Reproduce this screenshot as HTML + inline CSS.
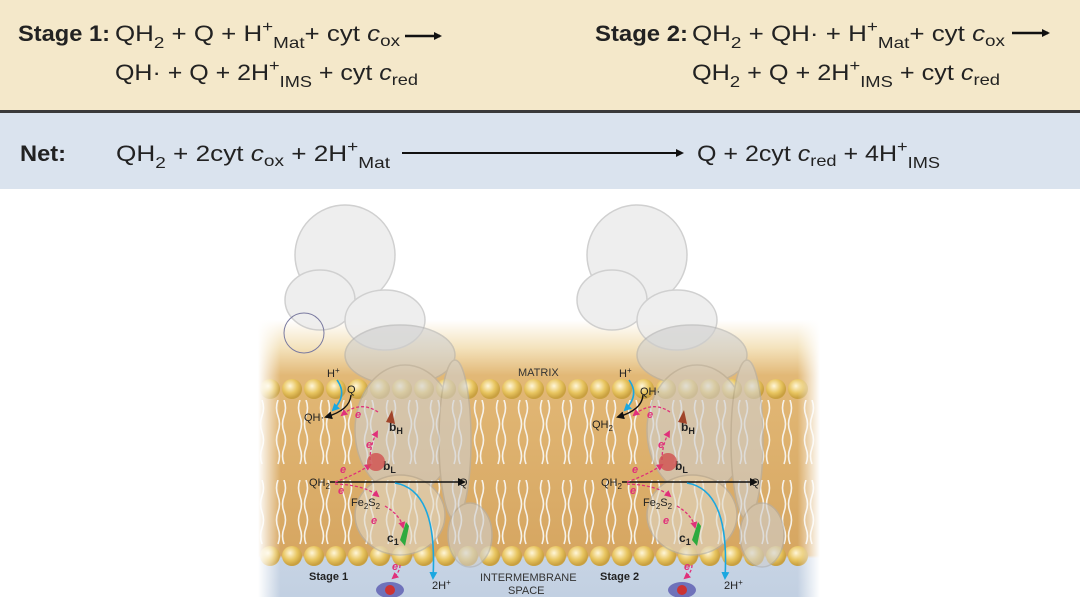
<!DOCTYPE html>
<html><head><meta charset="utf-8"><style>
html,body{margin:0;padding:0;background:#fff;}
svg{display:block}
text{font-family:"Liberation Sans",sans-serif;}
</style></head><body>
<svg width="1080" height="597" viewBox="0 0 1080 597" xmlns="http://www.w3.org/2000/svg">
<defs>
<linearGradient id="bg" x1="0" y1="0" x2="0" y2="1">
<stop offset="0" stop-color="#ffffff"/>
<stop offset="0.1" stop-color="#f4e3bd"/>
<stop offset="0.2" stop-color="#e2b876"/>
<stop offset="0.85" stop-color="#d6a661"/>
<stop offset="0.86" stop-color="#c7d4e4"/>
<stop offset="1" stop-color="#c2d0e2"/>
</linearGradient>
<linearGradient id="fade" x1="0" y1="0" x2="1" y2="0">
<stop offset="0" stop-color="#fff" stop-opacity="1"/>
<stop offset="0.04" stop-color="#fff" stop-opacity="0"/>
<stop offset="0.96" stop-color="#fff" stop-opacity="0"/>
<stop offset="1" stop-color="#fff" stop-opacity="1"/>
</linearGradient>
<radialGradient id="head" cx="0.4" cy="0.35" r="0.6">
<stop offset="0" stop-color="#fff6d8"/>
<stop offset="0.6" stop-color="#e8c560"/>
<stop offset="1" stop-color="#c9a040"/>
</radialGradient>
<pattern id="tailsTop" x="270" y="400" width="22" height="66" patternUnits="userSpaceOnUse">
<path d="M8 0 q-3 8 0 16 t0 16 t0 16 t0 16 M14 0 q3 8 0 16 t0 16 t0 16 t0 16" stroke="#f6f2ea" stroke-width="1.6" fill="none"/>
</pattern>
<pattern id="tailsBot" x="270" y="480" width="22" height="66" patternUnits="userSpaceOnUse">
<path d="M8 0 q-3 8 0 16 t0 16 t0 16 t0 16 M14 0 q3 8 0 16 t0 16 t0 16 t0 16" stroke="#f6f2ea" stroke-width="1.6" fill="none"/>
</pattern>
<marker id="ak" markerWidth="8" markerHeight="8" refX="6" refY="4" orient="auto" markerUnits="userSpaceOnUse"><path d="M0 0 L8 4 L0 8 Z" fill="#111"/></marker>
<marker id="ab" markerWidth="8" markerHeight="8" refX="6" refY="4" orient="auto" markerUnits="userSpaceOnUse"><path d="M0 0 L8 4 L0 8 Z" fill="#1aa7e0"/></marker>
<marker id="ap" markerWidth="7" markerHeight="7" refX="5" refY="3.5" orient="auto" markerUnits="userSpaceOnUse"><path d="M0 0 L7 3.5 L0 7 Z" fill="#e0307a"/></marker>
</defs>

<rect x="0" y="0" width="1080" height="110" fill="#f4e8ca"/>
<rect x="0" y="110" width="1080" height="3" fill="#3a3a3a"/>
<rect x="0" y="113" width="1080" height="76" fill="#dae3ee"/>

<g font-size="22" fill="#222">
<text x="18" y="41" font-weight="bold" font-size="22" textLength="92" lengthAdjust="spacingAndGlyphs">Stage 1:</text>
<text x="115" y="41" textLength="285" lengthAdjust="spacingAndGlyphs">QH<tspan font-size="16" dy="7">2</tspan><tspan dy="-7"> + Q + H</tspan><tspan font-size="16" dy="-9">+</tspan><tspan font-size="16" dy="16">Mat</tspan><tspan dy="-7">+  cyt </tspan><tspan font-style="italic">c</tspan><tspan font-size="16" dy="5">ox</tspan></text>
<line x1="405" y1="36" x2="440" y2="36" stroke="#111" stroke-width="2.5" marker-end="url(#ak)"/>
<text x="115" y="80" textLength="303" lengthAdjust="spacingAndGlyphs">QH· + Q + 2H<tspan font-size="16" dy="-9">+</tspan><tspan font-size="16" dy="16">IMS</tspan><tspan dy="-7"> +  cyt </tspan><tspan font-style="italic">c</tspan><tspan font-size="16" dy="5">red</tspan></text>

<text x="595" y="41" font-weight="bold" font-size="22" textLength="93" lengthAdjust="spacingAndGlyphs">Stage 2:</text>
<text x="692" y="41" textLength="313" lengthAdjust="spacingAndGlyphs">QH<tspan font-size="16" dy="7">2</tspan><tspan dy="-7"> + QH·  + H</tspan><tspan font-size="16" dy="-9">+</tspan><tspan font-size="16" dy="16">Mat</tspan><tspan dy="-7">+  cyt </tspan><tspan font-style="italic">c</tspan><tspan font-size="16" dy="5">ox</tspan></text>
<line x1="1012" y1="33" x2="1048" y2="33" stroke="#111" stroke-width="2.5" marker-end="url(#ak)"/>
<text x="692" y="80" textLength="308" lengthAdjust="spacingAndGlyphs">QH<tspan font-size="16" dy="7">2</tspan><tspan dy="-7"> + Q + 2H</tspan><tspan font-size="16" dy="-9">+</tspan><tspan font-size="16" dy="16">IMS</tspan><tspan dy="-7"> +  cyt </tspan><tspan font-style="italic">c</tspan><tspan font-size="16" dy="5">red</tspan></text>

<text x="20" y="161" font-weight="bold" font-size="22" textLength="46" lengthAdjust="spacingAndGlyphs">Net:</text>
<text x="116" y="161" textLength="274" lengthAdjust="spacingAndGlyphs">QH<tspan font-size="16" dy="7">2</tspan><tspan dy="-7">  +  2cyt </tspan><tspan font-style="italic">c</tspan><tspan font-size="16" dy="5">ox</tspan><tspan dy="-5">  +  2H</tspan><tspan font-size="16" dy="-9">+</tspan><tspan font-size="16" dy="16">Mat</tspan></text>
<line x1="402" y1="153" x2="682" y2="153" stroke="#111" stroke-width="2" marker-end="url(#ak)"/>
<text x="697" y="161" textLength="243" lengthAdjust="spacingAndGlyphs">Q  +  2cyt <tspan font-style="italic">c</tspan><tspan font-size="16" dy="5">red</tspan><tspan dy="-5">  +  4H</tspan><tspan font-size="16" dy="-9">+</tspan><tspan font-size="16" dy="16">IMS</tspan></text>
</g>

<rect x="258" y="320" width="562" height="277" fill="url(#bg)"/>
<rect x="258" y="400" width="562" height="66" fill="url(#tailsTop)"/>
<rect x="258" y="480" width="562" height="66" fill="url(#tailsBot)"/>
<g fill="url(#head)">
<circle cx="270" cy="389" r="10"/><circle cx="292" cy="389" r="10"/><circle cx="314" cy="389" r="10"/><circle cx="336" cy="389" r="10"/><circle cx="358" cy="389" r="10"/><circle cx="380" cy="389" r="10"/><circle cx="402" cy="389" r="10"/><circle cx="424" cy="389" r="10"/><circle cx="446" cy="389" r="10"/><circle cx="468" cy="389" r="10"/><circle cx="490" cy="389" r="10"/><circle cx="512" cy="389" r="10"/><circle cx="534" cy="389" r="10"/><circle cx="556" cy="389" r="10"/><circle cx="578" cy="389" r="10"/><circle cx="600" cy="389" r="10"/><circle cx="622" cy="389" r="10"/><circle cx="644" cy="389" r="10"/><circle cx="666" cy="389" r="10"/><circle cx="688" cy="389" r="10"/><circle cx="710" cy="389" r="10"/><circle cx="732" cy="389" r="10"/><circle cx="754" cy="389" r="10"/><circle cx="776" cy="389" r="10"/><circle cx="798" cy="389" r="10"/>
<circle cx="270" cy="556" r="10"/><circle cx="292" cy="556" r="10"/><circle cx="314" cy="556" r="10"/><circle cx="336" cy="556" r="10"/><circle cx="358" cy="556" r="10"/><circle cx="380" cy="556" r="10"/><circle cx="402" cy="556" r="10"/><circle cx="424" cy="556" r="10"/><circle cx="446" cy="556" r="10"/><circle cx="468" cy="556" r="10"/><circle cx="490" cy="556" r="10"/><circle cx="512" cy="556" r="10"/><circle cx="534" cy="556" r="10"/><circle cx="556" cy="556" r="10"/><circle cx="578" cy="556" r="10"/><circle cx="600" cy="556" r="10"/><circle cx="622" cy="556" r="10"/><circle cx="644" cy="556" r="10"/><circle cx="666" cy="556" r="10"/><circle cx="688" cy="556" r="10"/><circle cx="710" cy="556" r="10"/><circle cx="732" cy="556" r="10"/><circle cx="754" cy="556" r="10"/><circle cx="776" cy="556" r="10"/><circle cx="798" cy="556" r="10"/>
</g>
<rect x="258" y="320" width="562" height="277" fill="url(#fade)"/>

<g id="prot" stroke-width="1.5">
<g fill="#ececec" stroke="#c8c8c8" opacity="0.85">
<ellipse cx="345" cy="255" rx="50" ry="50"/>
<ellipse cx="320" cy="300" rx="35" ry="30"/>
<ellipse cx="385" cy="320" rx="40" ry="30"/>
</g>
<g fill="#cfcfcf" stroke="#b0b0b0" opacity="0.6">
<ellipse cx="400" cy="355" rx="55" ry="30"/>
<ellipse cx="405" cy="430" rx="50" ry="65"/>
<ellipse cx="455" cy="440" rx="16" ry="80"/>
<ellipse cx="400" cy="515" rx="45" ry="40" fill="#e0d8c8"/>
<ellipse cx="470" cy="535" rx="22" ry="32"/>
</g>
</g>
<use href="#prot" transform="translate(292,0)"/>

<circle cx="304" cy="333" r="20" fill="none" stroke="#7a7aa0" stroke-width="1"/>

<g font-size="11" fill="#333">
<text x="518" y="376">MATRIX</text>
<text x="480" y="581">INTERMEMBRANE</text>
<text x="508" y="594">SPACE</text>
</g>
<g id="st1">
<g font-size="11" fill="#222">
<text x="327" y="377">H<tspan font-size="8" dy="-4">+</tspan></text>
<text x="309" y="486">QH<tspan font-size="8" dy="3">2</tspan></text>
<text x="459" y="486">Q</text>
<text x="351" y="506">Fe<tspan font-size="8" dy="3">2</tspan><tspan dy="-3">S</tspan><tspan font-size="8" dy="3">2</tspan></text>
<text x="432" y="589">2H<tspan font-size="8" dy="-4">+</tspan></text>
<text x="389" y="431" font-weight="bold" font-size="12">b<tspan font-size="9" dy="3">H</tspan></text>
<text x="383" y="470" font-weight="bold" font-size="12">b<tspan font-size="9" dy="3">L</tspan></text>
<text x="387" y="542" font-weight="bold" font-size="12">c<tspan font-size="9" dy="3">1</tspan></text>
</g>
<path d="M337 380 Q348 395 333 410" stroke="#1aa7e0" stroke-width="1.6" fill="none" marker-end="url(#ab)"/>
<path d="M351 395 Q350 410 326 417" stroke="#111" stroke-width="1.4" fill="none" marker-end="url(#ak)"/>
<line x1="330" y1="482" x2="464" y2="482" stroke="#111" stroke-width="1.4" marker-end="url(#ak)"/>
<path d="M395 483 Q438 490 433 578" stroke="#1aa7e0" stroke-width="1.6" fill="none" marker-end="url(#ab)"/>
<g stroke="#e0307a" stroke-width="1.3" fill="none" stroke-dasharray="3 2">
<path d="M378 412 Q360 400 342 415" marker-end="url(#ap)"/>
<path d="M370 460 Q370 445 377 432" marker-end="url(#ap)"/>
<path d="M335 482 Q355 475 370 465" marker-end="url(#ap)"/>
<path d="M335 484 Q365 485 378 496" marker-end="url(#ap)"/>
<path d="M385 506 Q400 515 403 527" marker-end="url(#ap)"/>
<path d="M400 565 Q400 572 393 578" marker-end="url(#ap)"/>
</g>
<g fill="#e0307a" font-size="11" font-weight="bold" font-style="italic">
<text x="355" y="418">e</text><text x="366" y="448">e</text><text x="340" y="473">e</text><text x="338" y="494">e</text><text x="371" y="524">e</text><text x="392" y="570">e</text>
</g>
<path d="M386 422 l6 -12 l3 14 z" fill="#a0442a"/>
<circle cx="376" cy="462" r="9" fill="#d05050" opacity="0.8"/>
<path d="M400 540 l6 -18 l3 4 l-4 20 z" fill="#2eaa3e"/>
<ellipse cx="390" cy="590" rx="14" ry="8" fill="#5a5ab0" opacity="0.8"/>
<circle cx="390" cy="590" r="5" fill="#c33"/>
</g>
<use href="#st1" transform="translate(292,0)"/>
<g font-size="11" fill="#222">
<text x="347" y="393">Q</text>
<text x="304" y="421">QH·</text>
<text x="309" y="580" font-weight="bold">Stage 1</text>
<text x="640" y="395">QH·</text>
<text x="592" y="428">QH<tspan font-size="8" dy="3">2</tspan></text>
<text x="600" y="580" font-weight="bold">Stage 2</text>
</g>
</svg>
</body></html>
